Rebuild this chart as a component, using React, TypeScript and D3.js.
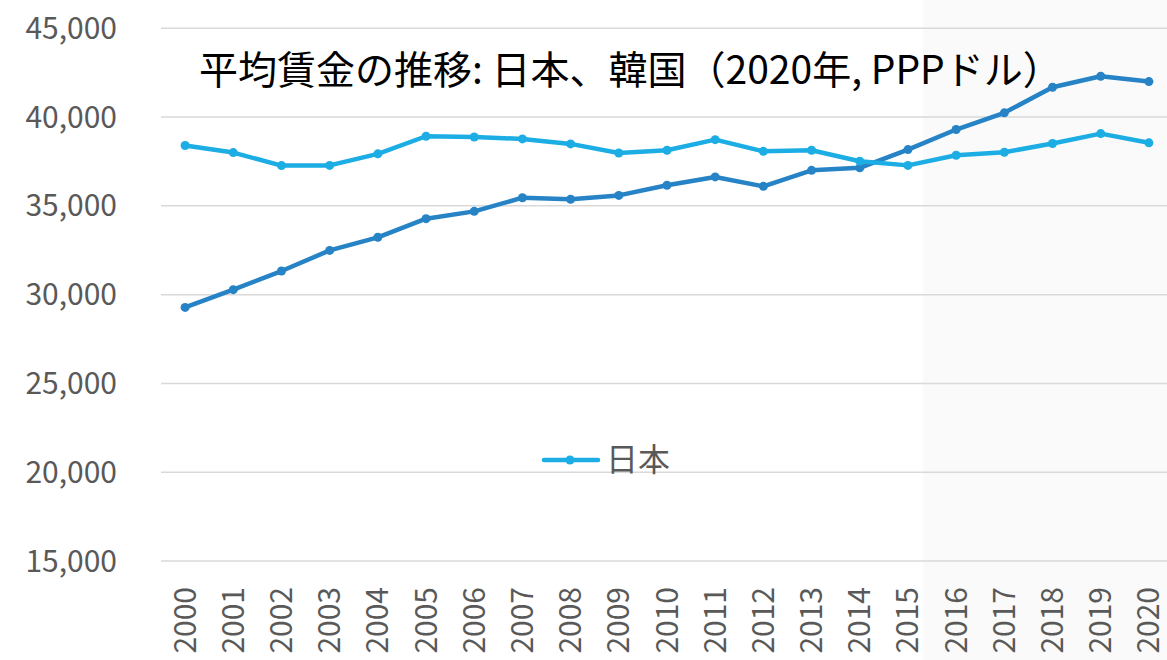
import React from "react";
import * as d3 from "d3";

// 平均賃金 (2020年, PPPドル)
const years = d3.range(2000, 2021).map(String);
const japan = [38400, 38000, 37270, 37280, 37930, 38920, 38880, 38770, 38490, 37980, 38130, 38730, 38070, 38130, 37510, 37280, 37850, 38020, 38510, 39070, 38550];
const korea = [29280, 30280, 31330, 32490, 33230, 34280, 34690, 35460, 35370, 35590, 36160, 36630, 36100, 37000, 37140, 38170, 39300, 40240, 41680, 42300, 42000];
const yTicks = [15000, 20000, 25000, 30000, 35000, 40000, 45000];

const W = 1167;
const H = 660;
const FONT = "'Noto Sans CJK JP', 'Noto Sans', sans-serif";
const JP_COLOR = "#1CADE4";
const KR_COLOR = "#2683C6";

export default function App() {
  const x = d3.scaleBand().domain(years).range([161, 1173]);
  const y = d3.scaleLinear().domain([15000, 45000]).range([561, 28.3]);
  const cx = (d: string) => (x(d) as number) + x.bandwidth() / 2;

  const line = d3
    .line<number>()
    .x((_, i) => cx(years[i]))
    .y((d) => y(d));

  const series = [
    { name: "韓国", values: korea, color: KR_COLOR },
    { name: "日本", values: japan, color: JP_COLOR },
  ];

  return (
    <svg width={W} height={H} style={{ position: "absolute", left: 0, top: 0, fontFamily: FONT }}>
      <rect x={0} y={0} width={W} height={H} fill="#ffffff" />
      <rect x={923} y={0} width={W - 923} height={H} fill="#fafafa" />

      {yTicks.map((t) => (
        <g key={t}>
          <line x1={161} x2={W} y1={y(t)} y2={y(t)} stroke="#d9d9d9" strokeWidth={1.5} />
          <text x={117} y={y(t)} dy="0.35em" textAnchor="end" fontSize={30} fill="#595959">
            {d3.format(",")(t)}
          </text>
        </g>
      ))}

      {years.map((yr) => (
        <text
          key={yr}
          transform={`translate(${cx(yr)},587) rotate(-90)`}
          dy="0.35em"
          textAnchor="end"
          fontSize={30}
          fill="#595959"
        >
          {yr}
        </text>
      ))}

      {series.map((s) => (
        <g key={s.name}>
          <path d={line(s.values) || ""} fill="none" stroke={s.color} strokeWidth={4.5} strokeLinejoin="round" />
          {s.values.map((v, i) => (
            <circle key={i} cx={cx(years[i])} cy={y(v)} r={4.5} fill={s.color} />
          ))}
        </g>
      ))}

      <g>
        <line x1={544} x2={598} y1={460} y2={460} stroke={JP_COLOR} strokeWidth={4.5} strokeLinecap="round" />
        <circle cx={570} cy={460} r={4.5} fill={JP_COLOR} />
        <text x={606} y={460} dy="0.35em" fontSize={32} fill="#595959">
          日本
        </text>
      </g>

      <text x={199} y={70} dy="0.35em" fontSize={39} fill="#000000">
        平均賃金の推移: 日本、韓国（2020年, PPPドル）
      </text>
    </svg>
  );
}
